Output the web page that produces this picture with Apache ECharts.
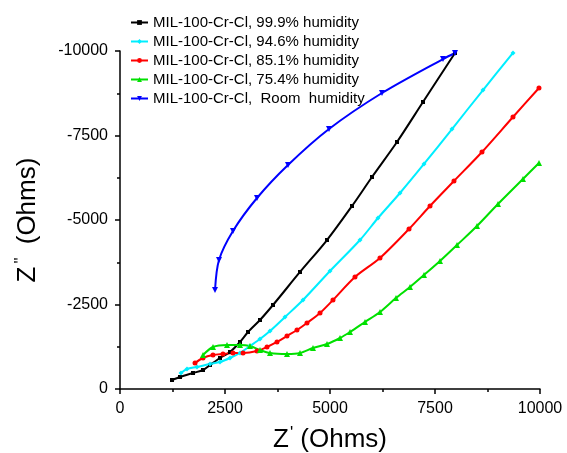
<!DOCTYPE html>
<html>
<head>
<meta charset="utf-8">
<script src="https://cdn.jsdelivr.net/npm/echarts@6/dist/echarts.min.js"></script>
<style>
    html, body { margin: 0; padding: 0; background: #fff; }
    #chart { width: 567px; height: 453px; }
</style>
</head>
<body>
<div id="chart"></div>
<script>
// 시리즈 이름
const seriesNames = [
    "MIL-100-Cr-Cl, 99.9% humidity",
    "MIL-100-Cr-Cl, 94.6% humidity",
    "MIL-100-Cr-Cl, 85.1% humidity",
    "MIL-100-Cr-Cl, 75.4% humidity",
    "MIL-100-Cr-Cl,  Room  humidity"
];

// [Z', Z''] 값
const rh999 = [
    [1238, -266], [1429, -355], [1738, -473], [1976, -562], [2143, -710],
    [2381, -917], [2619, -1095], [2857, -1391], [3048, -1686], [3333, -2041],
    [3643, -2485], [4286, -3462], [4929, -4408], [5524, -5414], [6000, -6272],
    [6595, -7308], [7214, -8491], [7976, -9941]
];
const rh946 = [
    [1452, -473], [1595, -592], [1833, -651], [2143, -740], [2381, -799],
    [2619, -917], [2857, -1065], [3095, -1272], [3333, -1479], [3571, -1716],
    [3929, -2130], [4357, -2633], [5000, -3491], [5714, -4408], [6143, -5059],
    [6667, -5799], [7238, -6657], [7905, -7692], [8643, -8846], [9357, -9941]
];
const rh851 = [
    [1786, -769], [1976, -917], [2214, -1006], [2452, -1036], [2690, -1065],
    [2929, -1065], [3262, -1124], [3500, -1243], [3738, -1391], [3976, -1568],
    [4214, -1746], [4452, -1953], [4762, -2249], [5071, -2633], [5595, -3314],
    [6190, -3876], [6881, -4734], [7381, -5414], [7952, -6154], [8619, -7012],
    [9357, -8047], [9976, -8905]
];
const rh754 = [
    [1976, -1006], [2214, -1243], [2548, -1302], [2857, -1302], [3095, -1272],
    [3333, -1154], [3571, -1065], [3976, -1036], [4286, -1065], [4595, -1213],
    [4929, -1331], [5238, -1509], [5476, -1686], [5833, -1982], [6190, -2278],
    [6571, -2692], [6905, -3018], [7238, -3373], [7619, -3787], [8024, -4260],
    [8500, -4822], [9000, -5473], [9595, -6213], [9976, -6686]
];
const rhRoom = [
    [2262, -2929], [2357, -3817], [2690, -4675], [3262, -5651], [4000, -6627],
    [4976, -7692], [6238, -8757], [7690, -9763], [7976, -9941]
];

const seriesColors = ['#000000', '#00eeff', '#ff0000', '#00e000', '#0000ff'];
const seriesSymbols = ['rect', 'diamond', 'circle', 'triangle', 'triangle'];

function makeSeries(idx, data, size, rotate) {
    return {
        name: seriesNames[idx],
        type: 'line',
        data: data,
        smooth: 0.3,
        symbol: seriesSymbols[idx],
        symbolSize: size,
        symbolRotate: rotate || 0,
        color: seriesColors[idx],
        lineStyle: { width: 2, color: seriesColors[idx] },
        itemStyle: { color: seriesColors[idx] },
        animation: false
    };
}

let chartDom = document.getElementById('chart');
let myChart = echarts.init(chartDom);
let option;

const axisFont = 'Liberation Sans';

// 축 이름 (위첨자 프라임)
function nameStyle(primePad) {
    return {
        fontFamily: axisFont, fontSize: 26, color: '#000',
        rich: {
            z: { fontFamily: axisFont, fontSize: 26, color: '#000' },
            p: { fontFamily: axisFont, fontSize: 17, color: '#000', verticalAlign: 'top', padding: primePad }
        }
    };
}

option = {
    backgroundColor: '#fff',
    grid: { left: 120, right: 27, top: 51, bottom: 64, outerBoundsMode: 'none', containLabel: false },
    legend: {
        orient: 'vertical',
        left: 130,
        top: 15,
        padding: 0,
        itemWidth: 17,
        itemHeight: 6,
        itemGap: 4,
        textStyle: { fontFamily: axisFont, fontSize: 15, color: '#000' },
        data: seriesNames
    },
    xAxis: {
        type: 'value',
        min: 0,
        max: 10000,
        interval: 2500,
        name: "{z|Z}{p|'} {z|(Ohms)}",
        nameLocation: 'middle',
        nameGap: 36,
        nameTextStyle: nameStyle([0, 0, 13, 1]),
        axisLine: { show: true, lineStyle: { color: '#000', width: 1.5 } },
        axisTick: { show: true, length: 5, lineStyle: { color: '#000', width: 1.5 } },
        minorTick: { show: true, splitNumber: 2, length: 3, lineStyle: { color: '#000', width: 1.5 } },
        axisLabel: { fontFamily: axisFont, fontSize: 16, color: '#000', margin: 12, formatter: v => String(v) },
        splitLine: { show: false }
    },
    yAxis: {
        type: 'value',
        inverse: true,
        min: -10000,
        max: 0,
        interval: 2500,
        name: '{z|Z}{p|"} {z|(Ohms)}',
        nameLocation: 'middle',
        nameGap: 77,
        nameRotate: 90,
        nameTextStyle: nameStyle([0, 6, 13, 3]),
        axisLine: { show: true, onZero: false, lineStyle: { color: '#000', width: 1.5 } },
        axisTick: { show: true, length: 5, lineStyle: { color: '#000', width: 1.5 } },
        minorTick: { show: true, splitNumber: 2, length: 3, lineStyle: { color: '#000', width: 1.5 } },
        axisLabel: { fontFamily: axisFont, fontSize: 16, color: '#000', margin: 12, formatter: v => String(v) },
        splitLine: { show: false }
    },
    series: [
        makeSeries(0, rh999, 4),
        makeSeries(1, rh946, 5),
        makeSeries(2, rh851, 5),
        makeSeries(3, rh754, 6),
        makeSeries(4, rhRoom, 6, 180)
    ]
};

option && myChart.setOption(option);
</script>
</body>
</html>
